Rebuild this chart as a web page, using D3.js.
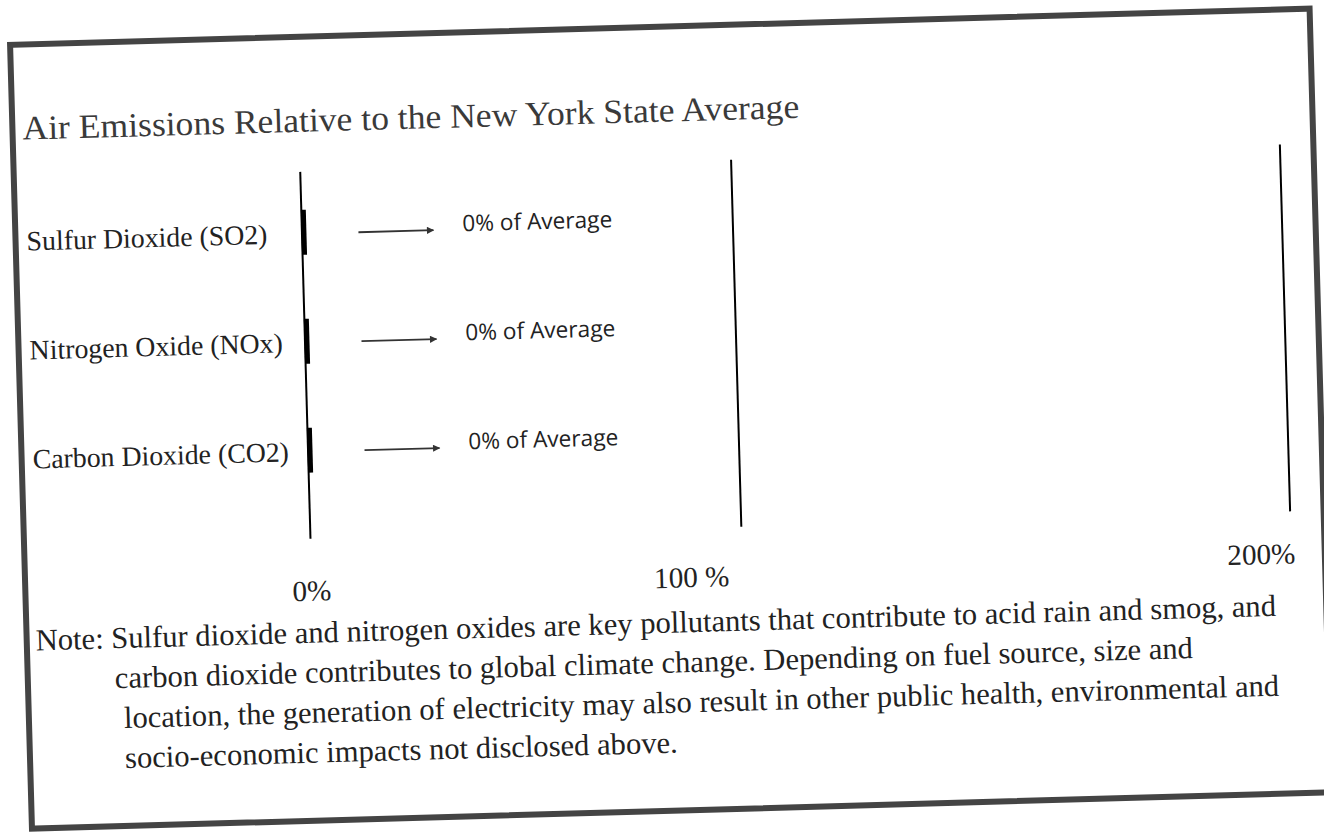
<!DOCTYPE html>
<html>
<head>
<meta charset="utf-8">
<script src="https://d3js.org/d3.v7.min.js"></script>
<style>
  body { margin: 0; background: #fff; }
  svg { display: block; }
</style>
</head>
<body>
<script>
    // data
    let title = "Air Emissions Relative to the New York State Average";
    let categories = ["Sulfur Dioxide (SO2)", "Nitrogen Oxide (NOx)", "Carbon Dioxide (CO2)"];
    let values = [0, 0, 0];   // percent of the state average
    let tickValues = [0, 100, 200];
    let tickLabels = ["0%", "100 %", "200%"];
    let noteLines = [
        "Note: Sulfur dioxide and nitrogen oxides are key pollutants that contribute to acid rain and smog, and",
        "carbon dioxide contributes to global climate change. Depending on fuel source, size and",
        "location, the generation of electricity may also result in other public health, environmental and",
        "socio-economic impacts not disclosed above."
    ];

    let width = 1324, height = 835;
    let serif = "'Liberation Serif', 'Times New Roman', serif";
    let sans = "'Open Sans', 'Noto Sans', sans-serif";

    // shrink/grow a text so it covers the wanted width
    function fit(sel, target) {
        let w = sel.node().getComputedTextLength();
        let fs = parseFloat(sel.attr("font-size"));
        sel.attr("font-size", (fs * target / w).toFixed(2));
        return fs * target / w;
    }

    let svg = d3.select("body").append("svg")
        .attr("width", width)
        .attr("height", height);

    svg.append("defs").append("marker")
        .attr("id", "head")
        .attr("viewBox", "0 0 10 10")
        .attr("refX", 9).attr("refY", 5)
        .attr("markerWidth", 5).attr("markerHeight", 4)
        .attr("markerUnits", "strokeWidth")
        .attr("orient", "auto")
      .append("path")
        .attr("d", "M0,0 L10,5 L0,10 z")
        .attr("fill", "#333");

    // the whole sheet is scanned a little crooked
    let page = svg.append("g")
        .attr("transform", "translate(7,42) rotate(-1.6)");

    page.append("rect")
        .attr("x", 3).attr("y", 3)
        .attr("width", 1300).attr("height", 784)
        .attr("fill", "none")
        .attr("stroke", "#444")
        .attr("stroke-width", 6);

    // title looks a bit squeezed in the scan
    page.append("text")
        .attr("x", 13).attr("y", 98)
        .attr("font-family", serif)
        .attr("font-size", 34)
        .attr("fill", "#3a3a3a")
        .attr("textLength", 777)
        .attr("lengthAdjust", "spacingAndGlyphs")
        .text(title);

    // hand made spacing: 0 -> 100 is shorter than 100 -> 200
    let x = d3.scaleLinear().domain(tickValues).range([289, 720, 1269]);
    let y = d3.scalePoint().domain(categories).range([198, 416]);
    let gridTop = 138, gridBottom = 505;

    let axis = d3.axisBottom(x)
        .tickValues(tickValues)
        .tickSize(-(gridBottom - gridTop))
        .tickFormat((d, i) => tickLabels[i]);

    let ax = page.append("g")
        .attr("transform", `translate(0,${gridBottom})`)
        .call(axis);
    ax.select(".domain").remove();
    ax.selectAll(".tick line")
        .attr("stroke", "#000")
        .attr("stroke-width", 2);

    let nudge = { 0: [0, 62], 100: [-51, 59], 200: [-30, 52] };
    ax.selectAll(".tick text")
        .attr("font-family", serif)
        .attr("font-size", 28)
        .attr("fill", "#222")
        .attr("text-anchor", "middle")
        .attr("y", d => nudge[d][1])
        .attr("dy", 0)
        .attr("x", d => nudge[d][0]);
    let tfs = fit(ax.selectAll(".tick text").filter(d => d === 200), 68);
    ax.selectAll(".tick text").attr("font-size", tfs.toFixed(2));

    let rows = categories.map((c, i) => ({ name: c, value: values[i] }));

    // zero values still get a sliver so the bar shows
    page.selectAll("rect.bar")
        .data(rows)
        .join("rect")
        .attr("class", "bar")
        .attr("x", x(0))
        .attr("y", d => y(d.name) - 22)
        .attr("width", d => Math.max(x(d.value) - x(0), 5))
        .attr("height", 45)
        .attr("fill", "#000");

    let cat = page.selectAll("text.cat")
        .data(rows)
        .join("text")
        .attr("class", "cat")
        .attr("x", 14)
        .attr("y", d => y(d.name) + 11)
        .attr("font-family", serif)
        .attr("font-size", 28)
        .attr("fill", "#222")
        .text(d => d.name);
    let cfs = fit(cat.filter((d, i) => i === 0), 241);
    cat.attr("font-size", cfs.toFixed(2));

    page.selectAll("line.arrow")
        .data(rows)
        .join("line")
        .attr("class", "arrow")
        .attr("x1", x(0) + 57)
        .attr("x2", x(0) + 132)
        .attr("y1", d => y(d.name) + 2)
        .attr("y2", d => y(d.name) + 2)
        .attr("stroke", "#333")
        .attr("stroke-width", 1.8)
        .attr("marker-end", "url(#head)");

    let val = page.selectAll("text.val")
        .data(rows)
        .join("text")
        .attr("class", "val")
        .attr("x", x(0) + 161)
        .attr("y", d => y(d.name) + 4)
        .attr("font-family", sans)
        .attr("font-size", 22)
        .attr("fill", "#222")
        .text(d => d.value + "% of Average");
    let vfs = fit(val.filter((d, i) => i === 0), 150);
    val.attr("font-size", vfs.toFixed(2));

    let indent = [12, 90, 98, 98];
    let note = page.selectAll("text.note")
        .data(noteLines)
        .join("text")
        .attr("class", "note")
        .attr("x", (d, i) => indent[i])
        .attr("y", (d, i) => 609 + i * 40)
        .attr("font-family", serif)
        .attr("font-size", 28)
        .attr("fill", "#222")
        .text(d => d);
    let nfs = fit(note.filter((d, i) => i === 0), 1241);
    note.attr("font-size", nfs.toFixed(2));
</script>
</body>
</html>
